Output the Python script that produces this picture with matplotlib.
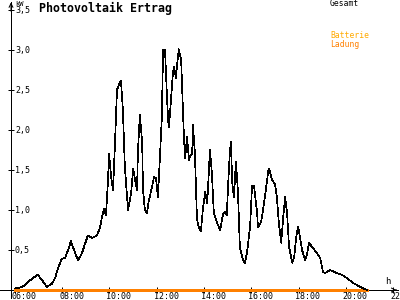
import matplotlib
matplotlib.use("Agg")
import matplotlib.pyplot as plt
import pandas as pd

# Gesamt-Leistung (kW)
zeiten = ["06:00", "06:13", "06:25", "06:38", "06:46", "06:58", "07:09", "07:21", "07:34", "07:42",
          "07:49", "07:59", "08:07", "08:15", "08:22", "08:30", "08:40", "08:50", "08:58", "09:05",
          "09:16", "09:28", "09:36", "09:41", "09:46", "09:51", "09:56", "09:59", "10:04", "10:09",
          "10:14", "10:19", "10:24", "10:29", "10:34", "10:39", "10:44", "10:47", "10:55", "11:00",
          "11:05", "11:10", "11:12", "11:17", "11:23", "11:25", "11:30", "11:35", "11:40", "11:48",
          "11:53", "11:58", "12:03", "12:08", "12:13", "12:16", "12:21", "12:26", "12:29", "12:31",
          "12:36", "12:41", "12:44", "12:49", "12:51", "12:56", "13:02", "13:07", "13:09", "13:12",
          "13:17", "13:22", "13:24", "13:30", "13:32", "13:37", "13:42", "13:45", "13:52", "13:57",
          "14:03", "14:08", "14:10", "14:15", "14:20", "14:25", "14:33", "14:41", "14:48", "14:53",
          "14:58", "15:01", "15:06", "15:09", "15:11", "15:16", "15:21", "15:26", "15:31", "15:39",
          "15:44", "15:49", "15:57", "16:02", "16:07", "16:15", "16:17", "16:25", "16:30", "16:37",
          "16:43", "16:45", "16:53", "17:00", "17:05", "17:10", "17:16", "17:21", "17:26", "17:31",
          "17:36", "17:44", "17:49", "17:54", "17:59", "18:04", "18:09", "18:17", "18:22", "18:27",
          "18:34", "18:47", "18:55", "19:02", "19:07", "19:20", "19:38", "19:50", "20:03", "20:18",
          "20:36", "20:49", "20:54"]
gesamt = [0.02, 0.03, 0.06, 0.12, 0.15, 0.19, 0.12, 0.04, 0.08, 0.15,
          0.27, 0.39, 0.40, 0.50, 0.61, 0.50, 0.37, 0.46, 0.58, 0.68,
          0.65, 0.68, 0.78, 0.92, 1.01, 0.93, 1.35, 1.70, 1.42, 1.25,
          1.84, 2.50, 2.57, 2.62, 2.25, 1.54, 1.21, 1.00, 1.21, 1.52,
          1.37, 1.25, 1.71, 2.19, 1.84, 1.25, 1.00, 0.96, 1.12, 1.29,
          1.41, 1.40, 1.16, 1.66, 2.16, 3.00, 3.00, 2.41, 2.12, 2.03,
          2.37, 2.71, 2.79, 2.65, 2.79, 3.01, 2.87, 2.21, 1.91, 1.65,
          1.91, 1.62, 1.67, 1.71, 2.06, 1.70, 0.90, 0.81, 0.73, 1.00,
          1.23, 1.09, 1.25, 1.75, 1.46, 0.96, 0.84, 0.75, 0.94, 0.98,
          0.94, 1.29, 1.75, 1.85, 1.37, 1.16, 1.60, 1.25, 0.54, 0.37,
          0.34, 0.46, 0.79, 1.30, 1.30, 0.96, 0.78, 0.85, 1.00, 1.25,
          1.48, 1.52, 1.37, 1.33, 1.16, 0.84, 0.59, 0.90, 1.16, 0.96,
          0.54, 0.34, 0.41, 0.66, 0.79, 0.65, 0.50, 0.37, 0.46, 0.59,
          0.54, 0.46, 0.40, 0.23, 0.21, 0.25, 0.21, 0.19, 0.15, 0.09,
          0.04, 0.01, 0.00]

# Batterie / Ladung: ganzer Tag 0
batt_zeiten = ["06:00", "20:54"]
batterie = [0.0, 0.0]
ladung = [0.0, 0.0]

y_ticks = [0.5, 1.0, 1.5, 2.0, 2.5, 3.0, 3.5]
x_ticks = [6, 8, 10, 12, 14, 16, 18, 20, 22]


def to_hours(lst):
    td = pd.to_timedelta([z + ":00" for z in lst])
    return td.total_seconds() / 3600.0


t = to_hours(zeiten)
tb = to_hours(batt_zeiten)

fig = plt.figure(figsize=(4, 3), dpi=100, facecolor="w")
ax = fig.add_axes([0, 0, 1, 1])
px_h = 23.625  # pixel pro Stunde
ax.set_xlim(6 - 15 / px_h, 6 + 385 / px_h)
ax.set_ylim(-10 / 80, 290 / 80)
ax.axis("off")

y_axis_x = 6 - 4 / px_h
x_end = 6 + 383 / px_h
lw = 0.72  # 1 pixel

# Achsen
ax.plot([ax.get_xlim()[0], x_end], [0, 0], color="k", lw=lw, antialiased=False)
ax.plot([y_axis_x, y_axis_x], [-0.1, 3.6], color="k", lw=lw, antialiased=False)
ax.annotate("", xy=(x_end + 0.05, 0), xytext=(x_end - 0.2, 0),
            arrowprops=dict(arrowstyle="->", lw=lw, color="k", mutation_scale=7))
ax.annotate("", xy=(y_axis_x, 3.63), xytext=(y_axis_x, 3.45),
            arrowprops=dict(arrowstyle="->", lw=lw, color="k", mutation_scale=7))

# Ticks
ax.plot([y_axis_x] * len(y_ticks), y_ticks, ls="none", marker="_", ms=5, mew=lw, color="k")
ax.plot(x_ticks, [0] * len(x_ticks), ls="none", marker="|", ms=5, mew=lw, color="k")

mono = "DejaVu Sans Mono"
for v in y_ticks:
    ax.annotate(("%.1f" % v).replace(".", ","), xy=(y_axis_x, v), xytext=(4, 0),
                textcoords="offset pixels", ha="left", va="center", fontsize=6, family=mono)
for h in x_ticks:
    ax.annotate("%02d:00" % h, xy=(h, 0), xytext=(-3, -2),
                textcoords="offset pixels", ha="left", va="top", fontsize=6, family=mono)

# Linien
ax.plot(tb, batterie, color="#ffaa00", lw=1.0, antialiased=False)
ax.plot(tb, ladung, color="#ff8000", lw=1.0, antialiased=False)
ax.plot(t, gesamt, color="k", lw=0.5, antialiased=False)

# Texte
fig.text(15 / 400, 1 - 4 / 300, "kW", fontsize=5, family=mono, va="center", ha="left")
fig.text(385 / 400, 1 - 282 / 300, "h", fontsize=6.5, family=mono, va="center", ha="left")
fig.text(39 / 400, 1 - 8 / 300, "Photovoltaik Ertrag", fontsize=8.4, family=mono,
         fontweight="bold", va="center", ha="left")
fig.text(330 / 400, 1 - 4 / 300, "Gesamt", fontsize=5.8, family=mono, va="center", ha="left")
fig.text(330 / 400, 1 - 36 / 300, "Batterie", fontsize=5.8, family=mono, va="center", ha="left",
         color="#ffaa00")
fig.text(330 / 400, 1 - 44 / 300, "Ladung", fontsize=5.8, family=mono, va="center", ha="left",
         color="#ff8000")

fig.savefig("out.png", dpi=100)
